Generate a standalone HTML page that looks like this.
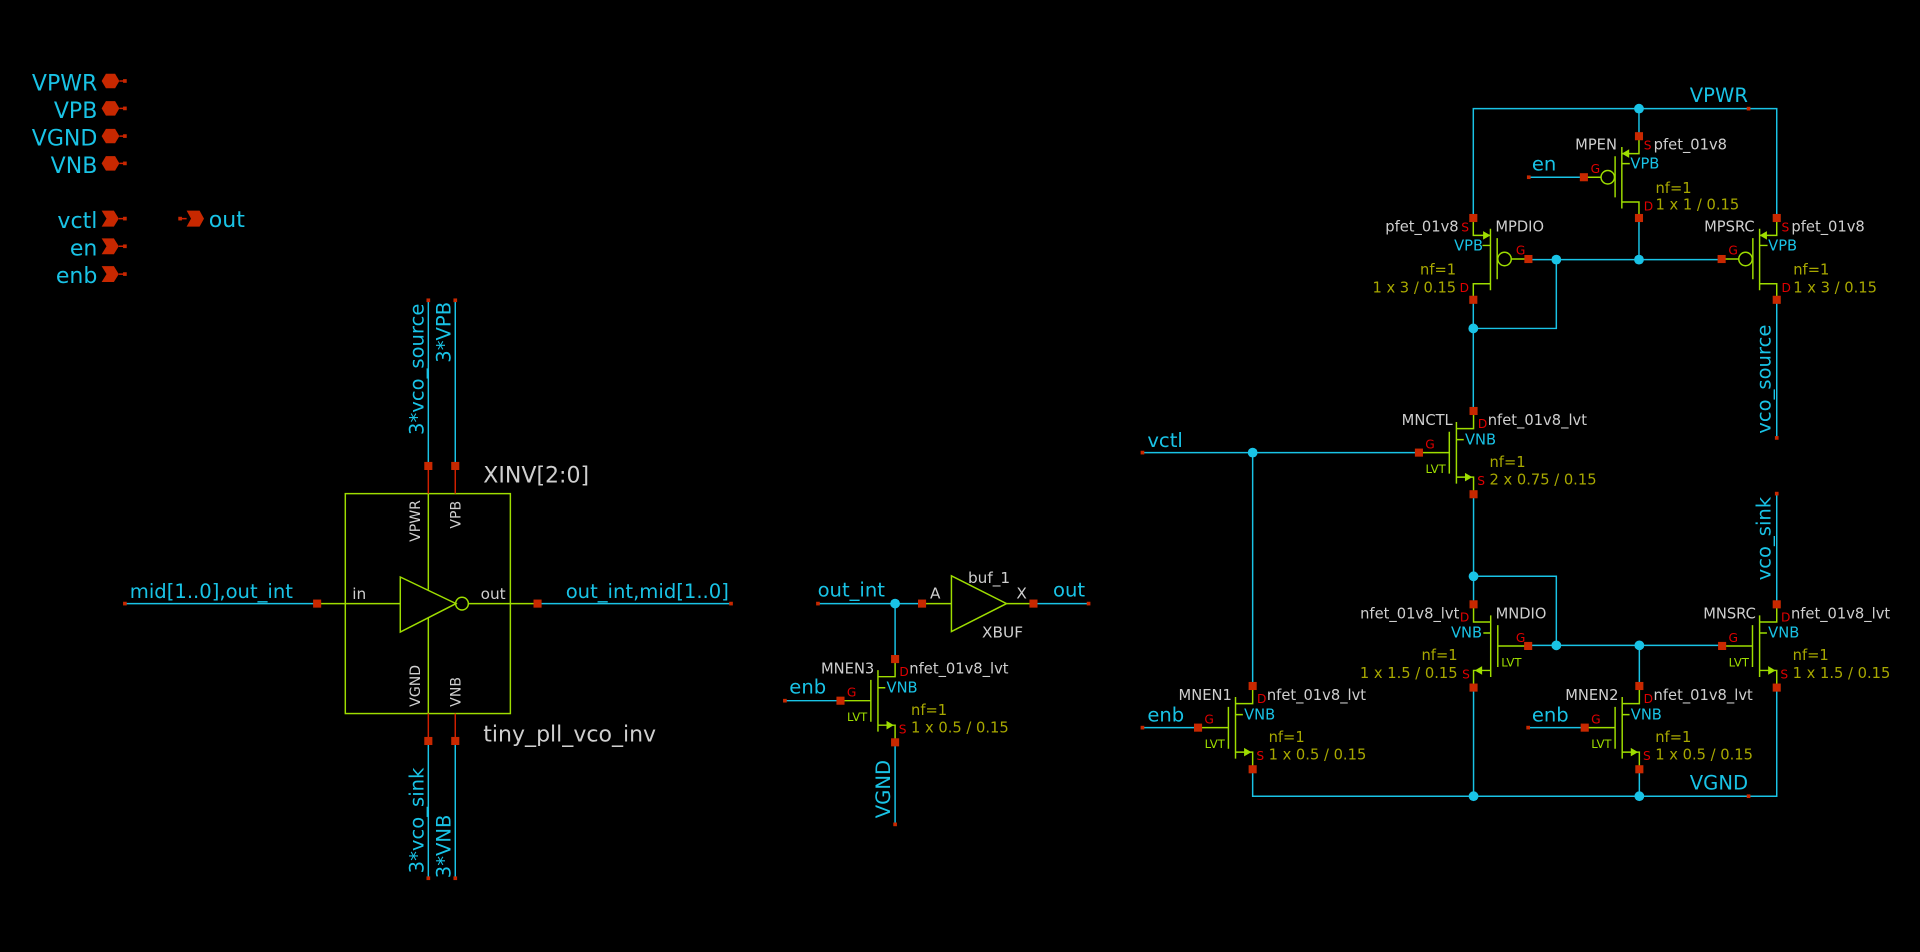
<!DOCTYPE html>
<html><head><meta charset="utf-8"><style>
html,body{margin:0;padding:0;background:#000;overflow:hidden}
svg{display:block}
text{font-family:"DejaVu Sans","Liberation Sans",sans-serif}
.w{stroke:#19c3e6;stroke-width:1.2;fill:none}
.g{stroke:#9edd00;stroke-width:1.2;fill:none}
.r{stroke:#d02000;stroke-width:1.2;fill:none}
.gt{fill:#cfcfcf;font-size:12px}
.rt{fill:#e00000;font-size:10px}
.ct{fill:#19c3e6;font-size:12px}
.ot{fill:#a8a800;font-size:12px}
.lt{fill:#9edd00;font-size:9.5px}
.nt{fill:#19c3e6;font-size:16px}
.pt{fill:#19c3e6;font-size:18px}
.pin{fill:#c82800}
.j{fill:#19c3e6}
</style></head><body>
<svg width="1920" height="952" viewBox="0 0 1568 777" xmlns="http://www.w3.org/2000/svg">
<defs>
<g id="nm">
<path class="g" d="M0,0 V14.4 H-14 M-14,9 V59.3 M-14,23.4 H-8 M-19.8,17 V51.2 M-19.8,34 H-44.6 M-14,54 H0 V68"/>
<polygon points="-1,54 -7,50.5 -7,57.5" fill="#9edd00"/>
<rect class="pin" x="-3.3" y="-3.3" width="6.6" height="6.6"/>
<rect class="pin" x="-47.9" y="30.7" width="6.6" height="6.6"/>
<rect class="pin" x="-3.3" y="64.7" width="6.6" height="6.6"/>
</g>
<g id="pm">
<path class="g" d="M0,0 V14.2 H-14 M-14,8.8 V59 M-14,22.4 H-7.5 M-19.5,16.4 V50 M-31,33.5 H-45 M-14,53.7 H0 V66.8"/>
<circle cx="-25.5" cy="33.5" r="5.5" class="g"/>
<polygon points="-14,14.2 -8,10.7 -8,17.7" fill="#9edd00"/>
<rect class="pin" x="-3.3" y="-3.3" width="6.6" height="6.6"/>
<rect class="pin" x="-48.3" y="30.2" width="6.6" height="6.6"/>
<rect class="pin" x="-3.3" y="63.5" width="6.6" height="6.6"/>
</g>
</defs>

<!-- top-left pins -->
<g class="pt" text-anchor="end">
<text x="79.5" y="73.5">VPWR</text><text x="79.5" y="96">VPB</text><text x="79.5" y="118.5">VGND</text><text x="79.5" y="141">VNB</text>
<text x="79.5" y="186">vctl</text><text x="79.5" y="208.5">en</text><text x="79.5" y="231">enb</text>
</g>
<g class="pin">
<polygon points="83,65.9 86.5,60 94,60 97.5,65.9 94,71.8 86.5,71.8"/>
<polygon points="83,88.3 86.5,82.4 94,82.4 97.5,88.3 94,94.2 86.5,94.2"/>
<polygon points="83,110.9 86.5,105 94,105 97.5,110.9 94,116.8 86.5,116.8"/>
<polygon points="83,133.2 86.5,127.3 94,127.3 97.5,133.2 94,139.1 86.5,139.1"/>
<polygon points="83,171.8 93,171.8 97,178.3 93,184.8 83,184.8 87,178.3"/>
<polygon points="83,194.4 93,194.4 97,200.9 93,207.4 83,207.4 87,200.9"/>
<polygon points="83,217.1 93,217.1 97,223.6 93,230.1 83,230.1 87,223.6"/>
<polygon points="152.4,171.8 163,171.8 166.6,178.3 163,184.8 152.4,184.8 156,178.3"/>
<rect x="100.5" y="64.4" width="3" height="3"/><rect x="100.5" y="86.8" width="3" height="3"/><rect x="100.5" y="109.4" width="3" height="3"/><rect x="100.5" y="131.7" width="3" height="3"/>
<rect x="100.5" y="176.8" width="3" height="3"/><rect x="100.5" y="199.4" width="3" height="3"/><rect x="100.5" y="222.1" width="3" height="3"/><rect x="145.6" y="176.8" width="3" height="3"/>
</g>
<path class="r" d="M97.5,65.9H101M97.5,88.3H101M97.5,110.9H101M97.5,133.2H101M97,178.3H101M97,200.9H101M97,223.6H101M148,178.3H152.4"/>
<text class="pt" x="170.5" y="185">out</text>

<!-- inverter block -->
<rect x="282" y="402.9" width="134.8" height="179.6" class="g"/>
<polygon points="326.9,471 326.9,515.9 372.4,492.7" class="g"/>
<circle cx="377.3" cy="492.7" r="5.2" class="g"/>
<path class="w" d="M102,492.7H259M439,492.7H597M349.8,245V380.3M371.8,245V380.3M349.8,604.9V717M371.8,604.9V717"/>
<path class="g" d="M259,492.7H326.9M382.5,492.7H439M349.8,402.9V481.3M349.8,504.1V582.5"/>
<path class="r" d="M349.8,380.3V402.9M371.8,380.3V402.9M349.8,582.5V604.9M371.8,582.5V604.9"/>
<g class="pin">
<rect x="255.7" y="489.4" width="6.6" height="6.6"/><rect x="435.7" y="489.4" width="6.6" height="6.6"/>
<rect x="346.5" y="377" width="6.6" height="6.6"/><rect x="368.5" y="377" width="6.6" height="6.6"/>
<rect x="346.5" y="601.6" width="6.6" height="6.6"/><rect x="368.5" y="601.6" width="6.6" height="6.6"/>
<rect x="100.5" y="491.2" width="3" height="3"/><rect x="595.5" y="491.2" width="3" height="3"/>
<rect x="348.3" y="243.5" width="3" height="3"/><rect x="370.3" y="243.5" width="3" height="3"/>
<rect x="348.3" y="715.5" width="3" height="3"/><rect x="370.3" y="715.5" width="3" height="3"/>
</g>
<text class="nt" x="106" y="488">mid[1..0],out_int</text>
<text class="nt" x="462" y="488">out_int,mid[1..0]</text>
<text class="gt" x="287.7" y="489" style="font-size:12.5px">in</text>
<text class="gt" x="392.5" y="489" style="font-size:12.5px">out</text>
<text class="gt" style="font-size:11.5px" transform="translate(343,442.3) rotate(-90)">VPWR</text>
<text class="gt" style="font-size:11.5px" transform="translate(376,431.5) rotate(-90)">VPB</text>
<text class="gt" style="font-size:11.5px" transform="translate(343,577) rotate(-90)">VGND</text>
<text class="gt" style="font-size:11.5px" transform="translate(376,577) rotate(-90)">VNB</text>
<text class="gt" x="394.7" y="394" style="font-size:18px">XINV[2:0]</text>
<text class="gt" x="394.7" y="605.5" style="font-size:18px">tiny_pll_vco_inv</text>
<text class="nt" transform="translate(346,355) rotate(-90)">3*vco_source</text>
<text class="nt" transform="translate(368,296) rotate(-90)">3*VPB</text>
<text class="nt" transform="translate(346,713) rotate(-90)">3*vco_sink</text>
<text class="nt" transform="translate(368,717) rotate(-90)">3*VNB</text>

<!-- buffer -->
<path class="w" d="M668,492.7H753M844,492.7H889M731,492.7V538M731,606V673M641,572H686.4"/>
<path class="g" d="M756,492.7H777M822,492.7H841"/>
<polygon points="777,470 777,515.5 822,492.7" class="g"/>
<circle class="j" cx="731" cy="492.7" r="4"/>
<g class="pin">
<rect x="749.7" y="489.4" width="6.6" height="6.6"/><rect x="840.7" y="489.4" width="6.6" height="6.6"/>
<rect x="666.5" y="491.2" width="3" height="3"/><rect x="887.5" y="491.2" width="3" height="3"/>
<rect x="729.5" y="671.5" width="3" height="3"/><rect x="639.5" y="570.5" width="3" height="3"/>
</g>
<text class="gt" x="759.5" y="488.6" style="font-size:12.5px">A</text>
<text class="gt" x="790.5" y="475.8" style="font-size:12.5px">buf_1</text>
<text class="gt" x="830" y="488.6" style="font-size:12.5px">X</text>
<text class="gt" x="802" y="520.5" style="font-size:12.5px">XBUF</text>
<text class="nt" x="667.7" y="487">out_int</text>
<text class="nt" x="860" y="487">out</text>
<text class="nt" x="644.6" y="566">enb</text>
<text class="nt" transform="translate(727,668) rotate(-90)">VGND</text>
<use href="#nm" x="731" y="538"/>
<text class="gt" x="714" y="549.6" text-anchor="end">MNEN3</text>
<text class="rt" x="734.5" y="552">D</text>
<text class="gt" x="742.6" y="549.6">nfet_01v8_lvt</text>
<text class="ct" x="724" y="565.2">VNB</text>
<text class="rt" x="691.6" y="568.6">G</text>
<text class="lt" x="708.3" y="588.6" text-anchor="end">LVT</text>
<text class="ot" x="744" y="583.6">nf=1</text>
<text class="ot" x="744" y="598">1 x 0.5 / 0.15</text>
<text class="rt" x="734" y="598.6">S</text>

<!-- right circuit wires -->
<path class="w" d="M1203.2,177.8V88.5H1451V177.8M1338.5,88.5V111M1248.5,144.5H1293.5M1338.5,177.8V211.8M1248.5,211.8H1406M1271,211.8V268H1203.2M1203.2,245.5V335.4M1451,245.5V357.4
M933,369.4H1158.8M1023,369.4V560M1203.4,403.4V493.3M1203.4,470.4H1271V526.8M1248.6,526.8H1406.2M1338.8,526.8V560M1451,402.9V493.3
M1203.4,561.3V650M1023,628V650H1451V561.3M1338.8,628V650M933,594H978.4M1248,594H1294.2"/>
<g class="j">
<circle cx="1338.5" cy="88.5" r="4"/><circle cx="1271" cy="211.8" r="4"/><circle cx="1338.5" cy="211.8" r="4"/><circle cx="1203.2" cy="268" r="4"/>
<circle cx="1023" cy="369.4" r="4"/><circle cx="1203.4" cy="470.4" r="4"/><circle cx="1271" cy="526.8" r="4"/><circle cx="1338.8" cy="526.8" r="4"/>
<circle cx="1203.4" cy="650" r="4"/><circle cx="1338.8" cy="650" r="4"/>
</g>
<g class="pin">
<rect x="1426.5" y="87" width="3" height="3"/><rect x="1247" y="143" width="3" height="3"/><rect x="1449.5" y="355.9" width="3" height="3"/>
<rect x="931.5" y="367.9" width="3" height="3"/><rect x="1449.5" y="401.4" width="3" height="3"/><rect x="1426.5" y="648.5" width="3" height="3"/>
<rect x="931.5" y="592.5" width="3" height="3"/><rect x="1246.5" y="592.5" width="3" height="3"/>
</g>
<text class="nt" x="1380" y="83">VPWR</text>
<text class="nt" x="1251" y="139">en</text>
<text class="nt" x="937" y="365">vctl</text>
<text class="nt" x="1380" y="644.6">VGND</text>
<text class="nt" x="937" y="589">enb</text>
<text class="nt" x="1251" y="589">enb</text>
<text class="nt" transform="translate(1446,354) rotate(-90)">vco_source</text>
<text class="nt" transform="translate(1446,473.7) rotate(-90)">vco_sink</text>

<!-- MPEN -->
<use href="#pm" x="1338.5" y="111"/>
<text class="gt" x="1320.5" y="122" text-anchor="end">MPEN</text>
<text class="rt" x="1342.4" y="122">S</text>
<text class="gt" x="1350.5" y="122">pfet_01v8</text>
<text class="ct" x="1331.5" y="137.5">VPB</text>
<text class="rt" x="1299" y="141">G</text>
<text class="ot" x="1352" y="157.3">nf=1</text>
<text class="ot" x="1352" y="171">1 x 1 / 0.15</text>
<text class="rt" x="1342.4" y="171.5">D</text>

<!-- MPSRC -->
<use href="#pm" x="1451" y="177.8"/>
<text class="gt" x="1433" y="188.8" text-anchor="end">MPSRC</text>
<text class="rt" x="1454.9" y="188.8">S</text>
<text class="gt" x="1463" y="188.8">pfet_01v8</text>
<text class="ct" x="1444" y="204.3">VPB</text>
<text class="rt" x="1411.5" y="207.8">G</text>
<text class="ot" x="1464.5" y="224.1">nf=1</text>
<text class="ot" x="1464.5" y="238.8">1 x 3 / 0.15</text>
<text class="rt" x="1454.9" y="238.3">D</text>

<!-- MPDIO mirrored -->
<use href="#pm" transform="translate(1203.2,177.8) scale(-1,1)"/>
<text class="gt" x="1221.2" y="188.8">MPDIO</text>
<text class="rt" x="1199.7" y="188.8" text-anchor="end">S</text>
<text class="gt" x="1191.2" y="188.8" text-anchor="end">pfet_01v8</text>
<text class="ct" x="1211.2" y="204.3" text-anchor="end">VPB</text>
<text class="rt" x="1238" y="207.8">G</text>
<text class="ot" x="1189.2" y="224.1" text-anchor="end">nf=1</text>
<text class="ot" x="1189.2" y="238.8" text-anchor="end">1 x 3 / 0.15</text>
<text class="rt" x="1199.7" y="238.3" text-anchor="end">D</text>

<!-- MNCTL -->
<use href="#nm" x="1203.4" y="335.4"/>
<text class="gt" x="1186.4" y="347" text-anchor="end">MNCTL</text>
<text class="rt" x="1206.9" y="349.4">D</text>
<text class="gt" x="1215" y="347">nfet_01v8_lvt</text>
<text class="ct" x="1196.4" y="362.6">VNB</text>
<text class="rt" x="1164" y="366">G</text>
<text class="lt" x="1180.7" y="386" text-anchor="end">LVT</text>
<text class="ot" x="1216.4" y="381">nf=1</text>
<text class="ot" x="1216.4" y="395.4">2 x 0.75 / 0.15</text>
<text class="rt" x="1206.4" y="396">S</text>

<!-- MNDIO mirrored -->
<use href="#nm" transform="translate(1203.4,493.3) scale(-1,1)"/>
<text class="gt" x="1221.4" y="504.9">MNDIO</text>
<text class="rt" x="1199.9" y="507.3" text-anchor="end">D</text>
<text class="gt" x="1191.8" y="504.9" text-anchor="end">nfet_01v8_lvt</text>
<text class="ct" x="1210.4" y="520.5" text-anchor="end">VNB</text>
<text class="rt" x="1238" y="523.9">G</text>
<text class="lt" x="1226" y="543.9">LVT</text>
<text class="ot" x="1190.4" y="538.9" text-anchor="end">nf=1</text>
<text class="ot" x="1190.4" y="553.3" text-anchor="end">1 x 1.5 / 0.15</text>
<text class="rt" x="1200.4" y="553.9" text-anchor="end">S</text>

<!-- MNSRC -->
<use href="#nm" x="1451" y="493.3"/>
<text class="gt" x="1434" y="504.9" text-anchor="end">MNSRC</text>
<text class="rt" x="1454.5" y="507.3">D</text>
<text class="gt" x="1462.6" y="504.9">nfet_01v8_lvt</text>
<text class="ct" x="1444" y="520.5">VNB</text>
<text class="rt" x="1411.6" y="523.9">G</text>
<text class="lt" x="1428.3" y="543.9" text-anchor="end">LVT</text>
<text class="ot" x="1464" y="538.9">nf=1</text>
<text class="ot" x="1464" y="553.3">1 x 1.5 / 0.15</text>
<text class="rt" x="1454" y="553.9">S</text>

<!-- MNEN2 -->
<use href="#nm" x="1338.8" y="560"/>
<text class="gt" x="1321.8" y="571.6" text-anchor="end">MNEN2</text>
<text class="rt" x="1342.3" y="574">D</text>
<text class="gt" x="1350.4" y="571.6">nfet_01v8_lvt</text>
<text class="ct" x="1331.8" y="587.2">VNB</text>
<text class="rt" x="1299.4" y="590.6">G</text>
<text class="lt" x="1316.1" y="610.6" text-anchor="end">LVT</text>
<text class="ot" x="1351.8" y="605.6">nf=1</text>
<text class="ot" x="1351.8" y="620">1 x 0.5 / 0.15</text>
<text class="rt" x="1341.8" y="620.6">S</text>

<!-- MNEN1 -->
<use href="#nm" x="1023" y="560"/>
<text class="gt" x="1006" y="571.6" text-anchor="end">MNEN1</text>
<text class="rt" x="1026.5" y="574">D</text>
<text class="gt" x="1034.6" y="571.6">nfet_01v8_lvt</text>
<text class="ct" x="1016" y="587.2">VNB</text>
<text class="rt" x="983.6" y="590.6">G</text>
<text class="lt" x="1000.3" y="610.6" text-anchor="end">LVT</text>
<text class="ot" x="1036" y="605.6">nf=1</text>
<text class="ot" x="1036" y="620">1 x 0.5 / 0.15</text>
<text class="rt" x="1026" y="620.6">S</text>
</svg>
</body></html>
